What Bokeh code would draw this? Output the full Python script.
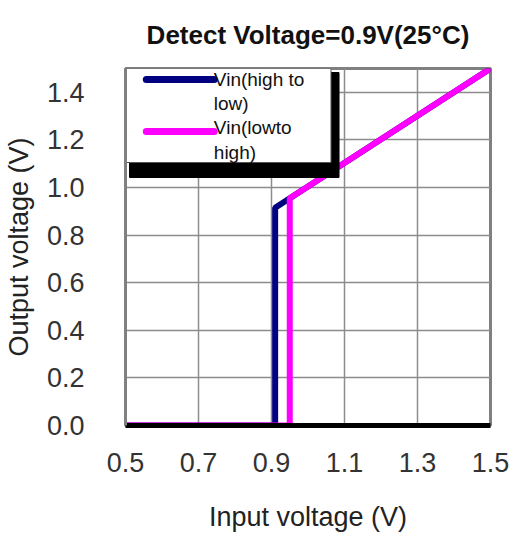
from bokeh.plotting import figure
from bokeh.models import FixedTicker, PrintfTickFormatter, Range1d
from bokeh.core.properties import value
from bokeh.embed import file_html
from bokeh.resources import INLINE

# data
hl_x = [1.5, 0.91, 0.91, 0.5]
hl_y = [1.5, 0.915, 0.0, 0.0]
lh_x = [0.5, 0.95, 0.95, 1.5]
lh_y = [0.0, 0.0, 0.955, 1.5]
x_ticks = [0.5, 0.7, 0.9, 1.1, 1.3, 1.5]
y_ticks = [0.0, 0.2, 0.4, 0.6, 0.8, 1.0, 1.2, 1.4]
labels = ["Vin(high to\nlow)", "Vin(lowto\nhigh)"]
colors = ["#000080", "#ff00ff"]
title_text = "Detect Voltage=0.9V(25°C)"

FONT = "Liberation Sans"

p = figure(width=513, height=536, output_backend="svg", toolbar_location=None,
           x_range=Range1d(0.5, 1.5), y_range=Range1d(0.0, 1.5),
           min_border_left=124, min_border_right=23, min_border_top=68, min_border_bottom=111,
           title=title_text)
p.title.text_font = FONT
p.title.text_font_size = "26px"
p.title.text_font_style = "bold"
p.title.align = "center"
p.title.vertical_align = "top"
p.title.standoff = 34
p.title.offset = 2
p.title.text_color = "#111111"

p.outline_line_color = "#808080"
p.outline_line_width = 3
p.background_fill_color = "white"

for ax in (p.xaxis[0], p.yaxis[0]):
    ax.major_tick_line_color = None
    ax.minor_tick_line_color = None
    ax.major_label_text_font = FONT
    ax.major_label_text_font_size = "27px"
    ax.major_label_text_color = "#333333"
    ax.axis_label_text_font = FONT
    ax.axis_label_text_font_size = "27px"
    ax.axis_label_text_font_style = "normal"
    ax.axis_label_text_color = "#222222"

p.xaxis.ticker = FixedTicker(ticks=x_ticks)
p.yaxis.ticker = FixedTicker(ticks=y_ticks)
p.xaxis.formatter = PrintfTickFormatter(format="%.1f")
p.yaxis.formatter = PrintfTickFormatter(format="%.1f")
p.xaxis.axis_label = "Input voltage (V)"
p.yaxis.axis_label = "Output voltage (V)"
p.xaxis.major_label_standoff = 21
p.yaxis.major_label_standoff = 35
p.xaxis.axis_label_standoff = 27
p.yaxis.axis_label_standoff = 10
p.xaxis.axis_line_color = "black"
p.xaxis.axis_line_width = 5
p.yaxis.axis_line_color = "#808080"
p.yaxis.axis_line_width = 3

p.grid.grid_line_color = "#8c8c8c"
p.grid.grid_line_width = 1.5
p.xgrid.ticker = FixedTicker(ticks=x_ticks[1:-1])
p.ygrid.ticker = FixedTicker(ticks=y_ticks[1:])

p.line(hl_x, hl_y, line_color=colors[0], line_width=6)
p.line(lh_x, lh_y, line_color=colors[1], line_width=6)

# legend (drawn manually to allow wrapped labels), with black drop shadow
p.quad(left=[0.511], right=[1.085], top=[1.483], bottom=[1.042],
       fill_color="black", line_color="black")
p.quad(left=[0.5], right=[1.063], top=[1.5], bottom=[1.105],
       fill_color="white", line_color="#555555", line_width=1)
p.multi_line(xs=[[0.557, 0.743], [0.557, 0.743]], ys=[[1.454, 1.454], [1.235, 1.235]],
             line_color=colors, line_width=7, line_cap="round")
p.text(x=[0.742, 0.742], y=[1.404, 1.2], text=labels,
       text_font=value(FONT), text_font_size="19px", text_color="#111111",
       text_baseline="middle", text_align="left", text_line_height=1.17)

open("out.html", "w").write(file_html(p, INLINE))
